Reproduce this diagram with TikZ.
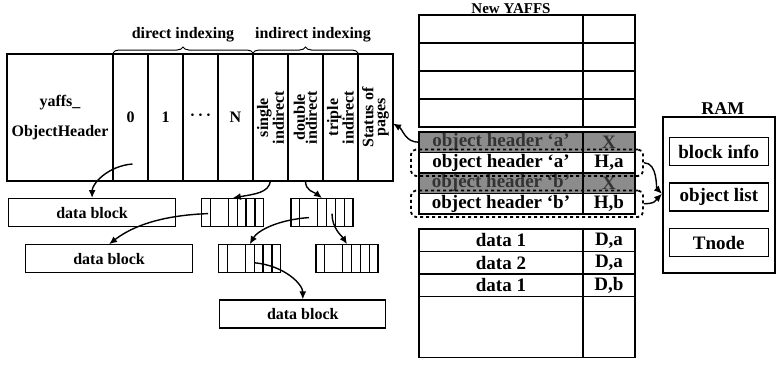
\documentclass[tikz,border=0pt]{standalone}
\usepackage{fontspec}
\setmainfont{Liberation Serif}
\usetikzlibrary{arrows.meta, positioning, calc, fit, decorations.pathreplacing}

% pointer cells inside an index block
\newcommand{\idxcells}[1]{%
  \draw[line width=1.2pt]
    ($(#1.north west)!.15!(#1.north east)$) -- ($(#1.south west)!.15!(#1.south east)$)
    ($(#1.north west)!.43!(#1.north east)$) -- ($(#1.south west)!.43!(#1.south east)$)
    ($(#1.north west)!.57!(#1.north east)$) -- ($(#1.south west)!.57!(#1.south east)$)
    ($(#1.north west)!.71!(#1.north east)$) -- ($(#1.south west)!.71!(#1.south east)$)
    ($(#1.north west)!.85!(#1.north east)$) -- ($(#1.south west)!.85!(#1.south east)$);}

\begin{document}
\begin{tikzpicture}[
	  x=1pt, y=1pt,
	  hdrcell/.style={rectangle, draw=black, line width=1.2pt, outer sep=0pt, inner sep=0pt, minimum height=127pt, align=center},
	  slot/.style={hdrcell, minimum width=35pt, font=\fontsize{16}{18}\selectfont\bfseries},
	  vtext/.style={rotate=90, align=center, font=\fontsize{16}{12}\selectfont\bfseries},
	  datablock/.style={rectangle, draw=black, line width=1.2pt, minimum width=167pt, minimum height=28pt, font=\fontsize{16}{18}\selectfont\bfseries},
	  idxblock/.style={rectangle, draw=black, line width=1.2pt, minimum width=62pt, minimum height=28pt},
	  lcell/.style={rectangle, draw=black, line width=1.6pt, outer sep=0pt, inner sep=0pt, minimum width=164pt, font=\fontsize{19}{21}\selectfont\bfseries},
	  rcell/.style={lcell, minimum width=52pt},
	  old/.style={fill=black!45, text=black!80},
	  dashbox/.style={draw=black, dashed, line width=1.8pt, rounded corners=5pt, inner xsep=8pt, inner ysep=3pt},
	  ramitem/.style={rectangle, draw=black, line width=1.4pt, minimum width=99pt, minimum height=28pt, font=\fontsize{19}{21}\selectfont\bfseries},
	  title/.style={anchor=base, font=\fontsize{16}{18}\selectfont\bfseries},
	  brace/.style={decorate, decoration={brace, amplitude=6pt}, line width=1pt},
	  arrow/.style={line width=1.4pt, -{Latex[length=8pt, width=7pt]}}
	]
	\useasboundingbox (0,0) rectangle (776,-364);

	% object header with its slots
	\node (hdr) [hdrcell, minimum width=106pt, anchor=north west, font=\fontsize{16}{30}\selectfont\bfseries] at (7,-54) {yaffs\_\\ObjectHeader};
	\node (d0) [slot, right=0pt of hdr] {0};
	\node (d1) [slot, right=0pt of d0] {1};
	\node (dd) [slot, right=0pt of d1] {·\,·\,·};
	\node (dn) [slot, right=0pt of dd] {N};
	\node (si) [slot, right=0pt of dn] {};
	\node (dbl) [slot, right=0pt of si] {};
	\node (tri) [slot, right=0pt of dbl] {};
	\node (stat) [slot, right=0pt of tri] {};
	\node [vtext] at (si) {single\\indirect};
	\node [vtext] at (dbl) {double\\indirect};
	\node [vtext] at (tri) {triple\\indirect};
	\node [vtext] at (stat) {Status of\\pages};

	\draw [brace] ([yshift=1pt]d0.north west) -- ([yshift=1pt]dn.north east);
	\draw [brace] ([yshift=1pt]si.north west) -- ([yshift=1pt]tri.north east);
	\node (dirlbl) [title] at (183,-38) {direct indexing};
	\node (indlbl) [title] at (313,-38) {indirect indexing};

	% data and index blocks
	\node (db1) [datablock, anchor=north west] at (8,-198) {data block};
	\node (ib1) [idxblock, right=25pt of db1] {};
	\node (ib2) [idxblock, right=26pt of ib1] {};
	\node (db2) [datablock, below=17pt of db1, xshift=17pt] {data block};
	\node (ib3) [idxblock, right=25pt of db2] {};
	\node (ib4) [idxblock, right=34pt of ib3] {};
	\node (db3) [datablock, minimum width=166pt, below=26pt of ib3, xshift=53pt] {data block};
	\idxcells{ib1}
	\idxcells{ib2}
	\idxcells{ib3}
	\idxcells{ib4}

	% New YAFFS pages
	\node (e1l) [lcell, minimum height=28pt, anchor=north west] at (419,-15) {};
	\node (e1r) [rcell, minimum height=28pt, right=0pt of e1l] {};
	\node (e2l) [lcell, minimum height=28pt, below=0pt of e1l] {};
	\node (e2r) [rcell, minimum height=28pt, right=0pt of e2l] {};
	\node (e3l) [lcell, minimum height=28pt, below=0pt of e2l] {};
	\node (e3r) [rcell, minimum height=28pt, right=0pt of e3l] {};
	\node (e4l) [lcell, minimum height=28pt, below=0pt of e3l] {};
	\node (e4r) [rcell, minimum height=28pt, right=0pt of e4l] {};
	\node (newyaffs) [title, font=\fontsize{15}{17}\selectfont\bfseries] at ($(e1l.north)+(10,2)$) {New YAFFS};

	\node (gal) [lcell, old, minimum height=20.5pt, anchor=north west] at (419,-132) {object header ‘a’};
	\node (gar) [rcell, old, minimum height=20.5pt, right=0pt of gal] {X};
	\node (wal) [lcell, minimum height=20.5pt, below=0pt of gal] {object header ‘a’};
	\node (war) [rcell, minimum height=20.5pt, right=0pt of wal] {H,a};
	\node (gbl) [lcell, old, minimum height=20.5pt, below=0pt of wal] {object header ‘b’};
	\node (gbr) [rcell, old, minimum height=20.5pt, right=0pt of gbl] {X};
	\node (wbl) [lcell, minimum height=20.5pt, below=0pt of gbl] {object header ‘b’};
	\node (wbr) [rcell, minimum height=20.5pt, right=0pt of wbl] {H,b};
	\node (fa) [dashbox, fit=(wal)(war)] {};
	\node (fb) [dashbox, fit=(wbl)(wbr)] {};

	\node (r1l) [lcell, minimum height=22.5pt, anchor=north west] at (419,-229) {data 1};
	\node (r1r) [rcell, minimum height=22.5pt, right=0pt of r1l] {D,a};
	\node (r2l) [lcell, minimum height=22.5pt, below=0pt of r1l] {data 2};
	\node (r2r) [rcell, minimum height=22.5pt, right=0pt of r2l] {D,a};
	\node (r3l) [lcell, minimum height=22.5pt, below=0pt of r2l] {data 1};
	\node (r3r) [rcell, minimum height=22.5pt, right=0pt of r3l] {D,b};
	\node (r4l) [lcell, minimum height=61pt, below=0pt of r3l] {};
	\node (r4r) [rcell, minimum height=61pt, right=0pt of r4l] {};

	% RAM
	\node (ram) [rectangle, draw=black, line width=1.6pt, minimum width=112pt, minimum height=156pt, anchor=north west] at (662,-116) {};
	\node (ramlbl) [title, font=\fontsize{18}{20}\selectfont\bfseries] at ($(ram.north)+(4,2)$) {RAM};
	\node (binfo) [ramitem, below=21pt of ram.north] {block info};
	\node (olist) [ramitem, below=16pt of binfo] {object list};
	\node (tnode) [ramitem, below=16pt of olist] {Tnode};

	\draw [arrow] ([xshift=2pt, yshift=17pt]d0.south) .. controls +(-25,-2) and +(0,14) .. (db1.north);
	\draw [arrow] (si.south) .. controls +(-2,-12) and +(22,4) .. (ib1.north);
	\draw [arrow] (dbl.south) .. controls +(0,-10) and +(-8,6) .. (ib2.north);
	\draw [arrow] ([xshift=7pt, yshift=-1pt]ib1.west) .. controls +(-55,-2) and +(18,14) .. (db2.north);
	\draw [arrow] ([xshift=-13pt, yshift=-5pt]ib2.center) .. controls +(-30,-2) and +(8,14) .. (ib3.north);
	\draw [arrow] ([xshift=10pt, yshift=-1pt]ib2.center) .. controls +(0,-15) and +(-5,8) .. (ib4.north);
	\draw [arrow] ([xshift=5pt, yshift=-4pt]ib3.center) .. controls +(30,-3) and +(0,15) .. (db3.north);
	\draw [arrow] (gal.west) .. controls +(-14,0) and +(10,-6) .. ([yshift=-6pt]stat.east);
	\draw [arrow] (fa.east) .. controls +(14,0) and +(-6,6) .. ([yshift=1pt]ram.west);
	\draw [arrow] (fb.east) .. controls +(12,0) and +(-6,-6) .. ([yshift=1pt]ram.west);

	\end{tikzpicture}
\end{document}
